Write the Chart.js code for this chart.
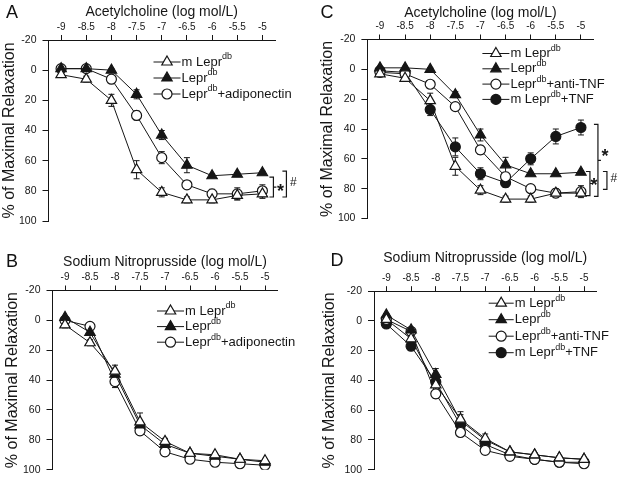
<!DOCTYPE html>
<html>
<head>
<meta charset="utf-8">
<script src="https://cdn.jsdelivr.net/npm/chart.js@4.4.1/dist/chart.umd.min.js"></script>
<style>
body { margin: 0; background: #fff; width: 621px; height: 482px; position: relative; overflow: hidden; font-family: "Liberation Sans", Arial, sans-serif; }
canvas { position: absolute; }
.letter { position: absolute; font-size: 18px; line-height: 18px; color: #111; transform: translate(-50%, -50%); }
</style>
</head>
<body>
<canvas id="cA" width="310" height="240" style="left:0;top:0"></canvas>
<canvas id="cB" width="310" height="242" style="left:0;top:240px"></canvas>
<canvas id="cC" width="311" height="240" style="left:310px;top:0"></canvas>
<canvas id="cD" width="311" height="242" style="left:310px;top:240px"></canvas>
<div class="letter" style="left:12px;top:12px">A</div>
<div class="letter" style="left:12px;top:261px">B</div>
<div class="letter" style="left:327px;top:12px">C</div>
<div class="letter" style="left:337px;top:260px">D</div>
<script>
const doses = [-9, -8.5, -8, -7.5, -7, -6.5, -6, -5.5, -5];
const yTicks = [-20, 0, 20, 40, 60, 80, 100];

// A: acetylcholine, adiponectin
const achA_mLepr = [3, 6, 20, 66, 81, 86, 86, 83, 82];
const achA_mLeprErr = [1, 2, 4, 6, 3, 2, 2, 3, 3];
const achA_lepr = [-1, -1, 0, 16, 43, 63, 70, 69, 68];
const achA_leprErr = [1, 1, 1, 3, 3, 5, 1, 1, 1];
const achA_adipo = [-1, -1, 6, 30, 58, 76, 82, 82, 80];
const achA_adipoErr = [1, 1, 1, 3, 4, 2, 3, 4, 4];

// B: nitroprusside, adiponectin
const snpB_mLepr = [3, 15, 34, 68, 81, 89, 90, 93, 94];
const snpB_mLeprErr = [2, 2, 4, 6, 2, 1, 1, 1, 1];
const snpB_lepr = [-2, 8, 36, 70, 83, 89, 91, 93, 95];
const snpB_leprErr = [1, 1, 2, 2, 2, 1, 1, 1, 1];
const snpB_adipo = [0, 4, 41, 74, 88, 93, 95, 96, 97];
const snpB_adipoErr = [1, 1, 4, 2, 2, 1, 1, 1, 1];

// C: acetylcholine, TNF
const achC_mLepr = [3, 6, 21, 65, 81, 87, 87, 83, 83];
const achC_mLeprErr = [2, 2, 5, 6, 3, 2, 2, 2, 2];
const achC_lepr = [-1, -1, 0, 17, 44, 64, 70, 70, 69];
const achC_leprErr = [1, 1, 1, 2, 4, 5, 1, 1, 1];
const achC_anti = [2, 3, 10, 25, 54, 72, 80, 83, 82];
const achC_antiErr = [2, 2, 2, 2, 3, 2, 2, 3, 4];
const achC_tnf = [1, 2, 27, 52, 70, 76, 60, 45, 39];
const achC_tnfErr = [2, 2, 4, 6, 4, 3, 4, 5, 5];

// D: nitroprusside, TNF
const snpD_mLepr = [-1, 12, 43, 66, 79, 88, 90, 92, 93];
const snpD_mLeprErr = [2, 2, 6, 5, 3, 1, 1, 1, 1];
const snpD_lepr = [-4, 6, 36, 67, 80, 88, 90, 92, 93];
const snpD_leprErr = [1, 1, 4, 4, 2, 1, 1, 1, 1];
const snpD_anti = [-1, 7, 49, 75, 87, 91, 93, 95, 96];
const snpD_antiErr = [1, 2, 3, 2, 2, 1, 1, 1, 1];
const snpD_tnf = [2, 17, 41, 70, 83, 90, 93, 95, 95];
const snpD_tnfErr = [1, 2, 3, 3, 2, 1, 1, 1, 1];

// legend names: [text, superscript, text]
const nameMLepr = ['m Lepr', 'db', ''];
const nameLepr = ['Lepr', 'db', ''];
const nameAdipo = ['Lepr', 'db', '+adiponectin'];
const nameAnti = ['Lepr', 'db', '+anti-TNF'];
const nameTnf = ['m Lepr', 'db', '+TNF'];

const INK = '#161616';
const FONT = '"Liberation Sans", Arial, sans-serif';

const markers = {
    openTri: { pointStyle: 'triangle', pointRadius: 6, pointBackgroundColor: '#fff' },
    fillTri: { pointStyle: 'triangle', pointRadius: 6, pointBackgroundColor: INK },
    openCirc: { pointStyle: 'circle', pointRadius: 5, pointBackgroundColor: '#fff' },
    fillCirc: { pointStyle: 'circle', pointRadius: 5, pointBackgroundColor: INK }
};

function series(name, vals, errs, mark) {
    return Object.assign({
        label: name.join(''),
        parts: name,
        err: errs,
        data: doses.map((d, i) => ({ x: d, y: vals[i] })),
        borderColor: INK,
        borderWidth: 1,
        pointBorderColor: INK,
        pointBorderWidth: 1.2,
        tension: 0
    }, markers[mark]);
}

const extras = {
    id: 'extras',
    beforeDatasetsDraw(chart) {
        const ctx = chart.ctx, xs = chart.scales.x, ys = chart.scales.y;
        ctx.save();
        ctx.strokeStyle = INK;
        ctx.lineWidth = 1;
        chart.data.datasets.forEach(ds => {
            ds.data.forEach((p, i) => {
                const e = ds.err[i];
                const x = xs.getPixelForValue(p.x);
                const y1 = ys.getPixelForValue(p.y - e), y2 = ys.getPixelForValue(p.y + e);
                ctx.beginPath();
                ctx.moveTo(x, y1); ctx.lineTo(x, y2);
                ctx.moveTo(x - 3, y1); ctx.lineTo(x + 3, y1);
                ctx.moveTo(x - 3, y2); ctx.lineTo(x + 3, y2);
                ctx.stroke();
            });
        });
        ctx.restore();
    },
    afterDraw(chart, args, opts) {
        const ctx = chart.ctx, a = chart.chartArea;
        const xs = chart.scales.x, ys = chart.scales.y;
        const lg = opts.legend;
        ctx.save();
        // legend
        chart.data.datasets.forEach((ds, i) => {
            const y = a.top + lg.top + i * lg.gap;
            const x0 = a.left + lg.left;
            ctx.strokeStyle = INK;
            ctx.lineWidth = 1;
            ctx.beginPath(); ctx.moveTo(x0, y); ctx.lineTo(x0 + lg.line, y); ctx.stroke();
            ctx.fillStyle = ds.pointBackgroundColor;
            ctx.lineWidth = 1.2;
            Chart.helpers.drawPoint(ctx, { pointStyle: ds.pointStyle, radius: ds.pointRadius, borderWidth: 1.2, rotation: 0 }, x0 + lg.line / 2, y);
            ctx.fillStyle = INK;
            ctx.textBaseline = 'middle';
            ctx.textAlign = 'left';
            let tx = x0 + lg.line + 1;
            ctx.font = '13px ' + FONT;
            ctx.fillText(ds.parts[0], tx, y);
            tx += ctx.measureText(ds.parts[0]).width;
            ctx.font = '9px ' + FONT;
            ctx.fillText(ds.parts[1], tx, y - 5);
            tx += ctx.measureText(ds.parts[1]).width;
            ctx.font = '13px ' + FONT;
            ctx.fillText(ds.parts[2], tx, y);
        });
        // significance brackets
        const xe = xs.getPixelForValue(-5);
        ctx.strokeStyle = INK;
        ctx.lineWidth = 1.2;
        (opts.brackets || []).forEach(b => {
            const x = xe + b.dx, y1 = ys.getPixelForValue(b.from), y2 = ys.getPixelForValue(b.to);
            ctx.beginPath();
            ctx.moveTo(x - 4, y1); ctx.lineTo(x, y1); ctx.lineTo(x, y2); ctx.lineTo(x - 4, y2);
            if (b.curly) {
                const ym = (y1 + y2) / 2;
                ctx.moveTo(x, ym); ctx.lineTo(x + 3, ym);
            }
            ctx.stroke();
        });
        ctx.fillStyle = INK;
        ctx.textAlign = 'center';
        ctx.textBaseline = 'middle';
        (opts.marks || []).forEach(m => {
            ctx.font = (m.text === '*' ? 'bold 18px ' : '12px ') + FONT;
            ctx.fillText(m.text, xe + m.dx, ys.getPixelForValue(m.at) + (m.text === '*' ? 4 : 0));
        });
        ctx.restore();
    }
};

function makePanel(id, datasets, xTitle, geo, legend, brackets, marks) {
    const cv = document.getElementById(id);
    return new Chart(cv, {
        type: 'line',
        data: { datasets: datasets },
        plugins: [extras],
        options: {
            responsive: false,
            animation: false,
            layout: { padding: { left: 0, top: 0, right: cv.width - geo.right, bottom: cv.height - geo.bottom } },
            plugins: {
                legend: { display: false },
                tooltip: { enabled: false },
                extras: { legend: legend, brackets: brackets, marks: marks }
            },
            scales: {
                x: {
                    type: 'linear',
                    position: 'top',
                    min: -9.25,
                    max: -4.75,
                    afterBuildTicks: s => { s.ticks = doses.map(v => ({ value: v })); },
                    afterFit: s => { s.height = geo.top; },
                    grid: { drawOnChartArea: false, tickLength: 5, color: INK },
                    border: { color: INK, width: 1 },
                    ticks: { padding: 2, color: INK, font: { size: 10, family: FONT }, callback: v => String(v) },
                    title: { display: true, text: xTitle, color: INK, font: { size: 14, family: FONT }, padding: { top: geo.xTitle, bottom: 0 } }
                },
                y: {
                    type: 'linear',
                    reverse: true,
                    min: -20,
                    max: 100,
                    afterBuildTicks: s => { s.ticks = yTicks.map(v => ({ value: v })); },
                    afterFit: s => { s.width = geo.left; },
                    grid: { drawOnChartArea: false, tickLength: 6, color: INK },
                    border: { color: INK, width: 1 },
                    ticks: { padding: 6, color: INK, font: { size: 10.5, family: FONT }, callback: v => String(v) },
                    title: { display: true, text: '% of Maximal Relaxation', color: INK, font: { size: 16, family: FONT }, padding: { top: geo.yTitle, bottom: 0 } }
                }
            },
            elements: { line: { clip: false } }
        }
    });
}

makePanel('cA', [
    series(nameMLepr, achA_mLepr, achA_mLeprErr, 'openTri'),
    series(nameLepr, achA_lepr, achA_leprErr, 'fillTri'),
    series(nameAdipo, achA_adipo, achA_adipoErr, 'openCirc')
], 'Acetylcholine (log mol/L)',
    { left: 48.5, top: 40, right: 275, bottom: 221, xTitle: 3.5, yTitle: 0 },
    { left: 105, top: 22, gap: 16, line: 27 },
    [{ dx: 11, from: 70.9, to: 84.1, curly: true }, { dx: 24, from: 66.9, to: 84.1 }],
    [{ text: '*', dx: 18, at: 78 }, { text: '#', dx: 31, at: 74.5 }]);

makePanel('cB', [
    series(nameMLepr, snpB_mLepr, snpB_mLeprErr, 'openTri'),
    series(nameLepr, snpB_lepr, snpB_leprErr, 'fillTri'),
    series(nameAdipo, snpB_adipo, snpB_adipoErr, 'openCirc')
], 'Sodium Nitroprusside (log mol/L)',
    { left: 52.5, top: 50.5, right: 277.5, bottom: 233.3, xTitle: 13.5, yTitle: 3.4 },
    { left: 104.5, top: 20.5, gap: 15.6, line: 27 },
    [], []);

makePanel('cC', [
    series(nameMLepr, achC_mLepr, achC_mLeprErr, 'openTri'),
    series(nameLepr, achC_lepr, achC_leprErr, 'fillTri'),
    series(nameAnti, achC_anti, achC_antiErr, 'openCirc'),
    series(nameTnf, achC_tnf, achC_tnfErr, 'fillCirc')
], 'Acetylcholine (log mol/L)',
    { left: 57.4, top: 39.5, right: 283.5, bottom: 218.5, xTitle: 4.5, yTitle: 8.4 },
    { left: 115, top: 14, gap: 15.3, line: 27 },
    [{ dx: 9, from: 68.5, to: 84.6, curly: true }, { dx: 17, from: 36.9, to: 85.2, curly: true }, { dx: 26, from: 68.5, to: 80.5 }],
    [{ text: '*', dx: 13, at: 75.6 }, { text: '*', dx: 24, at: 56.2 }, { text: '#', dx: 33, at: 73.2 }]);

makePanel('cD', [
    series(nameMLepr, snpD_mLepr, snpD_mLeprErr, 'openTri'),
    series(nameLepr, snpD_lepr, snpD_leprErr, 'fillTri'),
    series(nameAnti, snpD_anti, snpD_antiErr, 'openCirc'),
    series(nameTnf, snpD_tnf, snpD_tnfErr, 'fillCirc')
], 'Sodium Nitroprusside (log mol/L)',
    { left: 64, top: 51.2, right: 286.4, bottom: 230, xTitle: 9.5, yTitle: 10.4 },
    { left: 114.7, top: 12, gap: 16.5, line: 25 },
    [], []);
</script>
</body>
</html>
